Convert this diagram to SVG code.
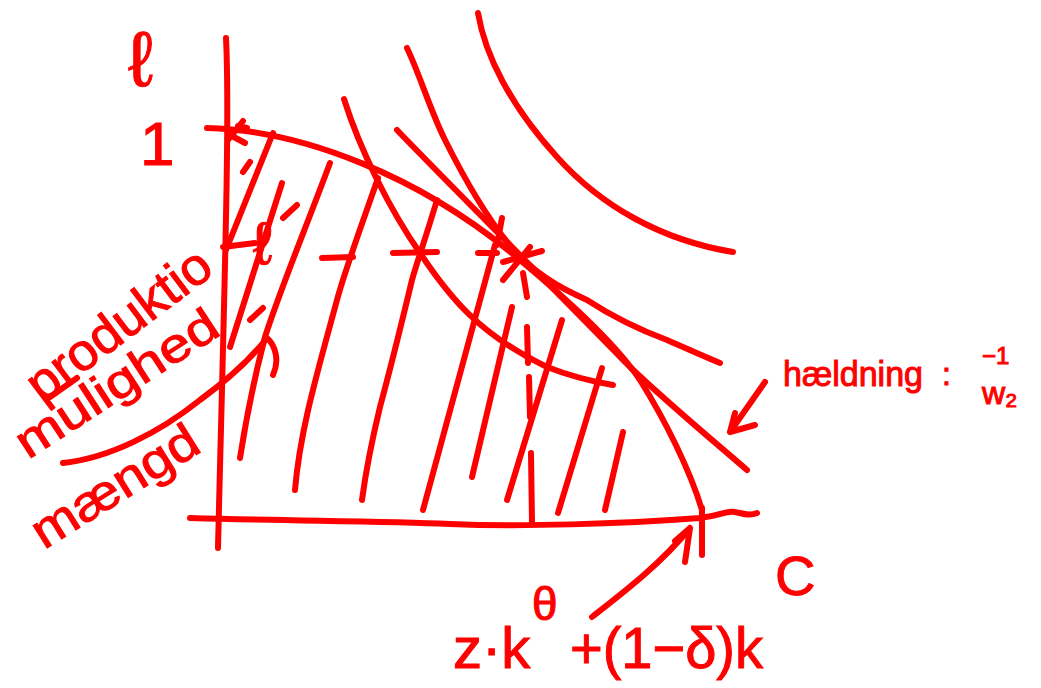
<svg xmlns="http://www.w3.org/2000/svg" width="1041" height="688" viewBox="0 0 1041 688">
<style>
.s{fill:none;stroke:#ff0000;stroke-width:6;stroke-linecap:round;stroke-linejoin:round}
.t{fill:#ff0000;stroke:#ff0000;stroke-width:1;font-family:"Liberation Sans","DejaVu Sans",sans-serif}
</style>
<rect width="1041" height="688" fill="#ffffff"/>
<g id="axes">
<path class="s" d="M226,38 C230,120 224,300 218,548"/>
<path class="s" d="M190,518 C300,521 380,521 450,524 C520,527 620,524 700,518 C720,516 727,510 735,512 C745,514 750,516 757,513"/>
</g>
<g id="curves">
<path class="s" d="M207,128 C300,130 420,175 520,260 C580,310 620,350 640,380 C665,420 690,470 702,510"/>
<path class="s" d="M397,130 C440,175 560,295 630,367 C670,405 710,438 747,470"/>
<path class="s" d="M344,99 C360,150 390,210 420,253 C450,298 480,335 547,367 C575,378 595,382 613,385"/>
<path class="s" d="M407,48 C420,75 430,110 445,140 C465,180 490,225 520,257 C545,280 565,290 587,300 C610,315 640,330 667,340 C690,350 705,357 720,363"/>
<path class="s" d="M478,13 C485,55 510,105 557,157 C600,205 660,240 733,252"/>
</g>
<g id="marks">
<path class="s" d="M243,121 L228,140 M232,136 L245,143 M238,126 L247,128"/>
<path class="s" d="M502,218 L497,245 M503,280 L530,247 M503,262 L542,251 M478,253 L497,253 M523,273 L527,297"/>
<path class="s" d="M223,247 L255,243 M322,258 L353,257 M393,253 L437,252"/>
<path class="s" d="M527,327 L528,363 M529,377 L530,417 M531,453 L532,523"/>
<path class="s" d="M702,508 L702,555"/>
</g>
<g id="hatching">
<path class="s" d="M273,133 L226,250"/>
<path class="s" d="M282,183 L230,347"/>
<path class="s" d="M330,163 C305,230 280,290 265,337 C255,375 246,420 240,458"/>
<path class="s" d="M378,178 C360,230 345,270 337,300 C318,370 300,430 295,490"/>
<path class="s" d="M437,200 C425,240 417,262 412,280 C400,330 390,370 380,407 C372,440 366,470 362,500"/>
<path class="s" d="M495,245 L423,510"/>
<path class="s" d="M512,307 L472,477"/>
<path class="s" d="M562,320 L507,500"/>
<path class="s" d="M602,368 L558,513"/>
<path class="s" d="M623,432 L605,510"/>
<path class="s" d="M243,172 L250,162 M283,218 L297,205 M250,320 L263,308"/>
</g>
<g id="arrows">
<path class="s" d="M63,463 C110,458 160,432 200,400 C230,378 250,360 267,338 C275,345 280,360 273,375"/>
<path class="s" d="M765,382 L730,432 M735,413 L730,432 L755,425"/>
<path class="s" d="M592,617 C620,595 660,565 690,528 M675,541 L690,528 L685,562"/>
<path class="s" d="M50,397 L77,378"/>
</g>
<g id="labels">
<text class="t" x="128" y="86" font-size="78">ℓ</text>
<text class="t" x="140" y="165" font-size="62">1</text>
<text class="t" x="253" y="264" font-size="60">ℓ</text>
<text class="t" x="775" y="595" font-size="56">C</text>
<text class="t" transform="translate(42,404) rotate(-37)" font-size="52" textLength="218" lengthAdjust="spacingAndGlyphs">produktio</text>
<text class="t" transform="translate(28,460) rotate(-33)" font-size="48" textLength="232" lengthAdjust="spacingAndGlyphs">mulighed</text>
<text class="t" transform="translate(44,550) rotate(-32)" font-size="50" textLength="188" lengthAdjust="spacingAndGlyphs">mængd</text>
<text class="t" x="783" y="386" font-size="35" textLength="140" lengthAdjust="spacingAndGlyphs">hældning</text>
<text class="t" x="942" y="385" font-size="32">:</text>
<text class="t" x="982" y="364" font-size="24">−1</text>
<text class="t" x="982" y="404" font-size="32">w₂</text>
<text class="t" x="453" y="668" font-size="58">z·k</text>
<text class="t" x="532" y="620" font-size="46">θ</text>
<text class="t" x="570" y="668" font-size="58" textLength="193" lengthAdjust="spacingAndGlyphs">+(1−δ)k</text>
</g>
</svg>
